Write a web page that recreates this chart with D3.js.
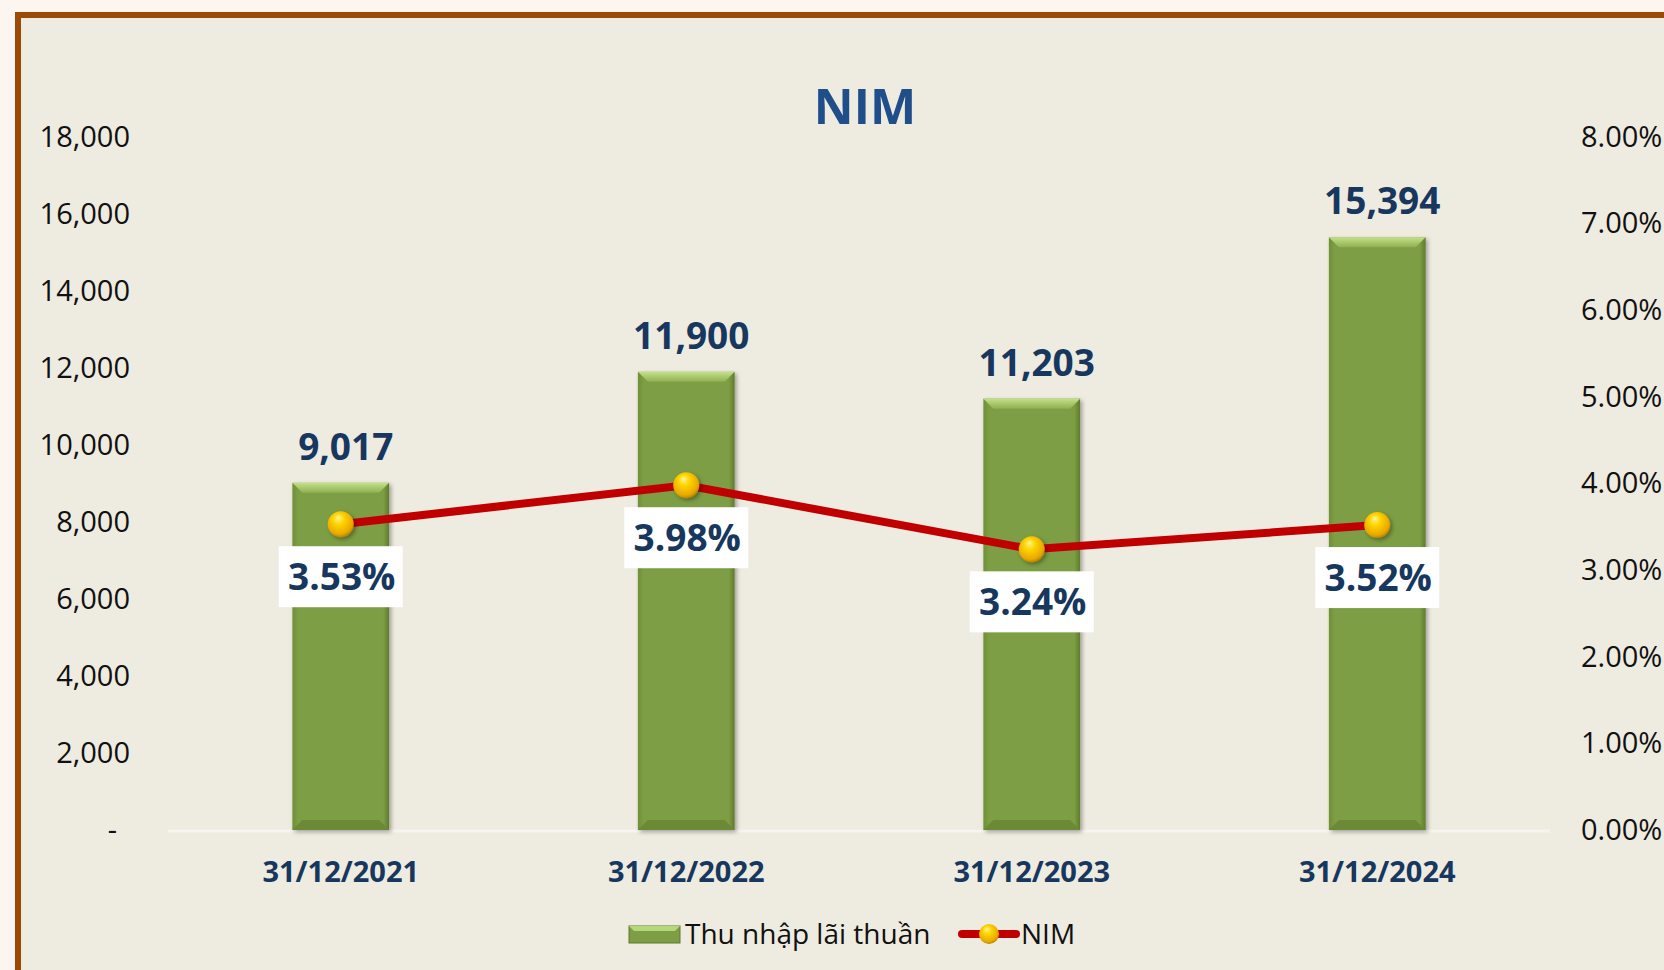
<!DOCTYPE html>
<html>
<head>
<meta charset="utf-8">
<script src="https://cdn.jsdelivr.net/npm/d3@7"></script>
<style>
    body { margin: 0; background: #fdf5ef; }
    svg { display: block; font-family: "Open Sans", sans-serif; }
</style>
</head>
<body>
<svg id="chart" width="1664" height="970"></svg>
<script>
const dates = ["31/12/2021", "31/12/2022", "31/12/2023", "31/12/2024"];
const incomeValues = [9017, 11900, 11203, 15394];
const nimValues = [0.0353, 0.0398, 0.0324, 0.0352];
const leftTicks = [0, 2000, 4000, 6000, 8000, 10000, 12000, 14000, 16000, 18000];
const rightTicks = [0, 0.01, 0.02, 0.03, 0.04, 0.05, 0.06, 0.07, 0.08];

const svg = d3.select("#chart");
const defs = svg.append("defs");

// frame
svg.append("rect")
    .attr("x", 18).attr("y", 15)
    .attr("width", 1700).attr("height", 1000)
    .attr("fill", "#eeebe0")
    .attr("stroke", "#9c4a06")
    .attr("stroke-width", 6);

// gradients
const barGrad = defs.append("linearGradient").attr("id", "barGrad")
    .attr("x1", 0).attr("x2", 1).attr("y1", 0).attr("y2", 0);
barGrad.append("stop").attr("offset", "0%").attr("stop-color", "#6f8f38");
barGrad.append("stop").attr("offset", "6%").attr("stop-color", "#7d9e44");
barGrad.append("stop").attr("offset", "94%").attr("stop-color", "#7d9e44");
barGrad.append("stop").attr("offset", "100%").attr("stop-color", "#5f7a2e");

const topGrad = defs.append("linearGradient").attr("id", "topGrad")
    .attr("x1", 0).attr("x2", 0).attr("y1", 0).attr("y2", 1);
topGrad.append("stop").attr("offset", "0%").attr("stop-color", "#c4e08a");
topGrad.append("stop").attr("offset", "100%").attr("stop-color", "#8fb050");

const ballGrad = defs.append("radialGradient").attr("id", "ballGrad")
    .attr("cx", "45%").attr("cy", "40%").attr("r", "60%")
    .attr("fx", "40%").attr("fy", "25%");
ballGrad.append("stop").attr("offset", "0%").attr("stop-color", "#fff59a");
ballGrad.append("stop").attr("offset", "35%").attr("stop-color", "#ffd500");
ballGrad.append("stop").attr("offset", "85%").attr("stop-color", "#e8a800");
ballGrad.append("stop").attr("offset", "100%").attr("stop-color", "#b98400");

const shadow = defs.append("filter").attr("id", "shadow")
    .attr("x", "-20%").attr("y", "-20%").attr("width", "140%").attr("height", "140%");
shadow.append("feDropShadow")
    .attr("dx", 2).attr("dy", 2).attr("stdDeviation", 2)
    .attr("flood-color", "#000").attr("flood-opacity", 0.35);

// scales
const xScale = d3.scaleBand()
    .domain(dates)
    .range([168, 1550])
    .paddingInner(0.72)
    .paddingOuter(0.36);

const yLeft = d3.scaleLinear().domain([0, 18000]).range([830, 137]);
const yRight = d3.scaleLinear().domain([0, 0.08]).range([830, 137]);

// title
svg.append("text")
    .attr("x", 865).attr("y", 124)
    .attr("text-anchor", "middle")
    .attr("font-size", 49).attr("font-weight", "bold")
    .attr("fill", "#1f4e8a")
    .text("NIM");

// left axis
const leftAxis = svg.append("g")
    .attr("transform", "translate(140,0)")
    .call(d3.axisLeft(yLeft).tickValues(leftTicks).tickSize(0).tickPadding(10)
        .tickFormat(d => d === 0 ? "-" : d3.format(",")(d)));
leftAxis.select(".domain").remove();
leftAxis.selectAll("text")
    .attr("font-family", "Open Sans").attr("font-size", 29).attr("fill", "#111")
    .attr("dx", d => d === 0 ? -13 : 0);

// right axis
const rightAxis = svg.append("g")
    .attr("transform", "translate(1571,0)")
    .call(d3.axisRight(yRight).tickValues(rightTicks).tickSize(0).tickPadding(10)
        .tickFormat(d3.format(".2%")));
rightAxis.select(".domain").remove();
rightAxis.selectAll("text")
    .attr("font-family", "Open Sans").attr("font-size", 29).attr("fill", "#111");

// baseline
svg.append("line")
    .attr("x1", 168).attr("x2", 1550)
    .attr("y1", yLeft(0) + 1).attr("y2", yLeft(0) + 1)
    .attr("stroke", "#f6f4ee").attr("stroke-width", 3);

// bars
const bevel = 10;
const bars = svg.selectAll("g.bar")
    .data(dates.map((d, i) => ({ date: d, value: incomeValues[i] })))
    .enter()
    .append("g")
    .attr("class", "bar");

bars.append("rect")
    .attr("x", d => xScale(d.date))
    .attr("y", d => yLeft(d.value))
    .attr("width", xScale.bandwidth())
    .attr("height", d => yLeft(0) - yLeft(d.value))
    .attr("fill", "url(#barGrad)")
    .attr("filter", "url(#shadow)");

bars.append("polygon")
    .attr("points", d => {
        const x0 = xScale(d.date), x1 = x0 + xScale.bandwidth(), y0 = yLeft(d.value);
        return [[x0, y0], [x1, y0], [x1 - bevel, y0 + bevel], [x0 + bevel, y0 + bevel]].join(" ");
    })
    .attr("fill", "url(#topGrad)");

bars.append("polygon")
    .attr("points", d => {
        const x0 = xScale(d.date), x1 = x0 + xScale.bandwidth(), y1 = yLeft(0);
        return [[x0, y1], [x1, y1], [x1 - bevel, y1 - bevel], [x0 + bevel, y1 - bevel]].join(" ");
    })
    .attr("fill", "#6c8a36");

bars.append("text")
    .attr("x", d => xScale(d.date) + xScale.bandwidth() / 2 + 5)
    .attr("y", d => yLeft(d.value) - 23)
    .attr("text-anchor", "middle")
    .attr("font-size", 37).attr("font-weight", "bold")
    .attr("fill", "#17375e")
    .text(d => d3.format(",")(d.value));

// x labels
svg.selectAll("text.xlabel")
    .data(dates)
    .enter()
    .append("text")
    .attr("class", "xlabel")
    .attr("x", d => xScale(d) + xScale.bandwidth() / 2)
    .attr("y", 882)
    .attr("text-anchor", "middle")
    .attr("font-size", 29).attr("font-weight", "bold")
    .attr("fill", "#17375e")
    .text(d => d);

// NIM line
const nimPoints = dates.map((d, i) => ({ date: d, value: nimValues[i] }));
const cx = d => xScale(d.date) + xScale.bandwidth() / 2;

svg.append("path")
    .datum(nimPoints)
    .attr("d", d3.line().x(cx).y(d => yRight(d.value)))
    .attr("fill", "none")
    .attr("stroke", "#c00000")
    .attr("stroke-width", 8);

svg.selectAll("circle.nim")
    .data(nimPoints)
    .enter()
    .append("circle")
    .attr("class", "nim")
    .attr("cx", cx)
    .attr("cy", d => yRight(d.value))
    .attr("r", 13)
    .attr("fill", "url(#ballGrad)")
    .attr("filter", "url(#shadow)");

// NIM labels
const nimLabels = svg.selectAll("g.nimlabel")
    .data(nimPoints)
    .enter()
    .append("g")
    .attr("class", "nimlabel");

nimLabels.append("rect")
    .attr("x", d => cx(d) - 62)
    .attr("y", d => yRight(d.value) + 22)
    .attr("width", 124)
    .attr("height", 61)
    .attr("fill", "#ffffff");

nimLabels.append("text")
    .attr("x", d => cx(d) + 1)
    .attr("y", d => yRight(d.value) + 66)
    .attr("text-anchor", "middle")
    .attr("font-size", 37).attr("font-weight", "bold")
    .attr("fill", "#17375e")
    .text(d => d3.format(".2%")(d.value));

// legend
const legend = svg.append("g");
legend.append("rect")
    .attr("x", 629).attr("y", 926).attr("width", 51).attr("height", 17)
    .attr("fill", "#7d9e44").attr("stroke", "#5f7a2e").attr("stroke-width", 1);
legend.append("polygon")
    .attr("points", [[629, 926], [680, 926], [675, 931], [634, 931]].join(" "))
    .attr("fill", "#b6d67a");
legend.append("text")
    .attr("x", 685).attr("y", 944)
    .attr("font-size", 28).attr("fill", "#111")
    .text("Thu nhập lãi thuần");

legend.append("line")
    .attr("x1", 962).attr("x2", 1016).attr("y1", 934).attr("y2", 934)
    .attr("stroke", "#c00000").attr("stroke-width", 8).attr("stroke-linecap", "round");
legend.append("circle")
    .attr("cx", 989).attr("cy", 934).attr("r", 10)
    .attr("fill", "url(#ballGrad)");
legend.append("text")
    .attr("x", 1021).attr("y", 944)
    .attr("font-size", 28).attr("fill", "#111")
    .text("NIM");
</script>
</body>
</html>
